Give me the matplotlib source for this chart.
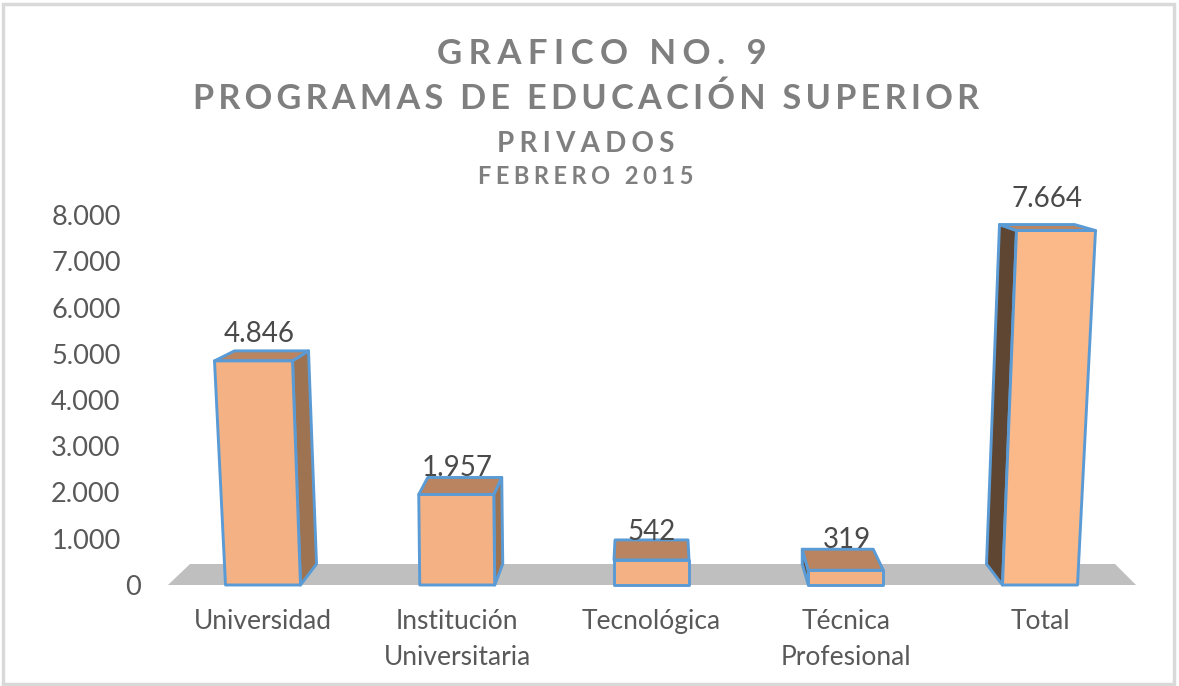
import matplotlib
matplotlib.use('Agg')
import matplotlib.pyplot as plt
from matplotlib.patches import Polygon, Rectangle
from matplotlib.ticker import FuncFormatter
from matplotlib.transforms import ScaledTranslation

plt.rcParams['font.family'] = ['Lato', 'DejaVu Sans']

# Data
categories = ['Universidad', 'Institución\nUniversitaria', 'Tecnológica', 'Técnica\nProfesional', 'Total']
values = [4846, 1957, 542, 319, 7664]
value_labels = ['4.846', '1.957', '542', '319', '7.664']
y_ticks = [0, 1000, 2000, 3000, 4000, 5000, 6000, 7000, 8000]

titles = ['GRAFICO NO. 9', 'PROGRAMAS DE EDUCACIÓN SUPERIOR', 'PRIVADOS', 'FEBRERO 2015']

# Fake 3D look of each bar, in pixels
lean_l = [-11, -1, 0, 0, 14]
lean_r = [-8, -1, 0, 0, 18]
back_l = [20, 9, 1, -6, -17]
back_r = [16, 8, -1, -10, -21]
back_up = [10, 17, 20, 21, 6]
floor_dx = [16, 8, 0, -6, -16]
label_dx = [-4, 0, 0, 1, 7]
label_dy = [-4, -5, -3, -1, 0]

W, H = 1179, 686
fig = plt.figure(figsize=(W / 100, H / 100), dpi=100, facecolor='white')

# axes box: x from 140 to 1140 px, y from 215 to 585 px
ax = fig.add_axes([140 / W, (H - 585) / H, 1000 / W, 370 / H])
px_x = 1 / 194.25
px_y = 8000 / 370
ax.set_xlim((140 - 263) * px_x, (1140 - 263) * px_x)
ax.set_ylim(0, 8000)
for s in ax.spines.values():
    s.set_visible(False)

half = 37.5 * px_x
line = '#5B9BD5'
depth_y = 21 * px_y

# floor
ax.add_patch(Polygon([((168 - 263) * px_x, 0), ((190 - 263) * px_x, depth_y),
                      ((1115 - 263) * px_x, depth_y), ((1136 - 263) * px_x, 0)],
                     closed=True, fc='#BFBFBF', ec='none', clip_on=False, zorder=1))

for i, v in enumerate(values):
    x0, x1 = i - half, i + half
    tl = x0 + lean_l[i] * px_x
    tr = x1 + lean_r[i] * px_x
    btl = tl + back_l[i] * px_x
    btr = tr + back_r[i] * px_x
    top_back = v + back_up[i] * px_y
    kw = dict(closed=True, ec=line, lw=2.1, joinstyle='round', clip_on=False, zorder=2 + i)

    if floor_dx[i] > 0:
        ax.add_patch(Polygon([(x1, 0), (x1 + floor_dx[i] * px_x, depth_y), (btr, top_back), (tr, v)],
                             fc='#9E7352', **kw))
    elif floor_dx[i] < 0:
        ax.add_patch(Polygon([(x0, 0), (x0 + floor_dx[i] * px_x, depth_y), (btl, top_back), (tl, v)],
                             fc='#5F4632', **kw))
    ax.add_patch(Polygon([(tl, v), (btl, top_back), (btr, top_back), (tr, v)], fc='#B9845F', **kw))
    ax.add_patch(Polygon([(x0, 0), (tl, v), (tr, v), (x1, 0)],
                         fc='#FBB98A' if i == 4 else '#F4B183', **kw))

    ax.annotate(value_labels[i], (i, v), xytext=(label_dx[i] * 0.72, 22.5 + label_dy[i] * 0.72),
                textcoords='offset points', ha='center', va='center', fontsize=20, color='#4A4A4A', zorder=20)

ax.set_yticks(y_ticks)
ax.yaxis.set_major_formatter(FuncFormatter(lambda t, p: f'{int(t):,}'.replace(',', '.')))
ax.set_xticks(range(len(categories)))
ax.set_xticklabels(categories, linespacing=1.55)
ax.tick_params(axis='y', length=0, labelsize=19.5, labelcolor='#595959', pad=14)
ax.tick_params(axis='x', length=0, labelsize=19, labelcolor='#595959', pad=17)

# the 0 label sits further right than the others
zero = ax.yaxis.get_major_ticks()[0].label1
zero.set_transform(zero.get_transform() + ScaledTranslation(20 / 100, 0, fig.dpi_scale_trans))

# titles, letter spaced with hair spaces
sizes = [25, 24.7, 20, 17]
x_px = [602, 586, 586, 586]
y_px = [54, 99, 144, 176]
gaps = [3, 2, 3, 3]
for t, s, x, y, g in zip(titles, sizes, x_px, y_px, gaps):
    fig.text(x / W, 1 - y / H, ('\u200a' * g).join(t), ha='center', va='center',
             fontsize=s, fontweight='bold', color='#7F7F7F')

# frame
fig.add_artist(Rectangle((3 / W, 1 - 684 / H), 1171 / W, 680 / H, transform=fig.transFigure,
                         fc='none', ec='#D9D9D9', lw=2.5))

fig.savefig('out.png', dpi=100)
